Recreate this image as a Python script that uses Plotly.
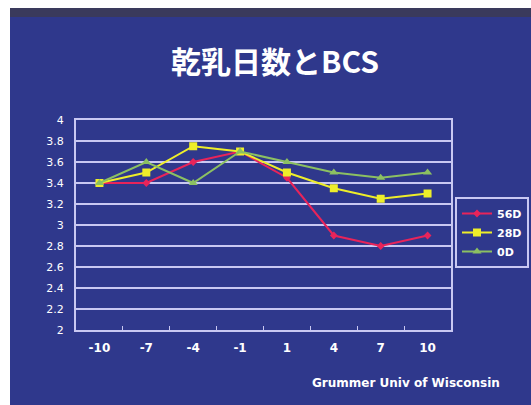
import plotly.graph_objects as go

categories = ["-10", "-7", "-4", "-1", "1", "4", "7", "10"]
series_names = ["56D", "28D", "0D"]
s56 = [3.4, 3.4, 3.6, 3.7, 3.45, 2.9, 2.8, 2.9]
s28 = [3.4, 3.5, 3.75, 3.7, 3.5, 3.35, 3.25, 3.3]
s0 = [3.4, 3.6, 3.4, 3.7, 3.6, 3.5, 3.45, 3.5]
yticks = [2, 2.2, 2.4, 2.6, 2.8, 3, 3.2, 3.4, 3.6, 3.8, 4]
title = "乾乳日数とBCS"
credit = "Grummer Univ of Wisconsin"

W, H = 531, 405
L, R, T, B = 76, 80, 120, 75
pw, ph = W - L - R, H - T - B

def px(x):
    return (x - L) / pw

def py(y):
    return (H - B - y) / ph

grid = "#c9c8f2"
bg = "#2f388c"
bold_font = "DejaVu Sans"

fig = go.Figure()
styles = [
    (s56, "#e8245a", "diamond", 6),
    (s28, "#eeee2a", "square", 8),
    (s0, "#8cc062", "triangle-up", 8),
]
for name, (vals, col, sym, sz) in zip(series_names, styles):
    fig.add_trace(go.Scatter(
        x=categories, y=vals, name="<b>" + name + "</b>", mode="lines+markers",
        line=dict(color=col, width=2),
        marker=dict(color=col, symbol=sym, size=sz),
    ))

shapes = [
    dict(type="rect", xref="paper", yref="paper", x0=px(10), x1=px(W + 5), y0=py(H + 5), y1=py(8),
         fillcolor=bg, line=dict(width=0), layer="below"),
    dict(type="rect", xref="paper", yref="paper", x0=px(10), x1=px(W + 5), y0=py(17), y1=py(8),
         fillcolor="#3a3a5c", line=dict(width=0), layer="below"),
]
fig.update_layout(
    width=W, height=H,
    margin=dict(l=L, r=R, t=T, b=B, autoexpand=False),
    paper_bgcolor="white", plot_bgcolor=bg,
    shapes=shapes,
    showlegend=True,
    legend=dict(x=px(455), y=py(197), xanchor="left", yanchor="top",
                bgcolor="rgba(0,0,0,0)", bordercolor=grid, borderwidth=2,
                font=dict(color="white", size=11, family=bold_font),
                itemwidth=30, tracegroupgap=0),
    annotations=[
        dict(text="<b>" + title + "</b>", x=px(275), y=py(60), xref="paper", yref="paper",
             showarrow=False, font=dict(color="white", size=30, family="Noto Sans CJK JP"),
             xanchor="center", yanchor="middle"),
        dict(text="<b>" + credit + "</b>", x=px(502), y=py(383), xref="paper", yref="paper",
             showarrow=False, font=dict(color="white", size=12, family=bold_font),
             xanchor="right", yanchor="middle"),
    ],
    xaxis=dict(type="category", range=[-0.5, 7.5], showgrid=False,
               showline=True, linecolor=grid, linewidth=2, mirror=True,
               ticks="inside", tickson="boundaries", ticklen=4, tickcolor=grid,
               tickfont=dict(color="white", size=12, family=bold_font),
               ticklabelstandoff=6),
    yaxis=dict(range=[2, 4], tickvals=yticks, ticktext=[f"{v:g}" for v in yticks],
               showgrid=True, gridcolor=grid, gridwidth=2,
               showline=True, linecolor=grid, linewidth=2, mirror=True,
               zeroline=False, ticks="",
               tickfont=dict(color="white", size=11, family=bold_font),
               ticklabelstandoff=8),
    font=dict(family=bold_font, color="white"),
)
fig.update_xaxes(tickprefix="<b>", ticksuffix="</b>")
fig.update_yaxes(tickprefix="<b>", ticksuffix="</b>")
fig.write_html("out.html", config={"displayModeBar": False},
               post_script="document.body.style.margin='0';document.body.style.overflow='hidden';")
